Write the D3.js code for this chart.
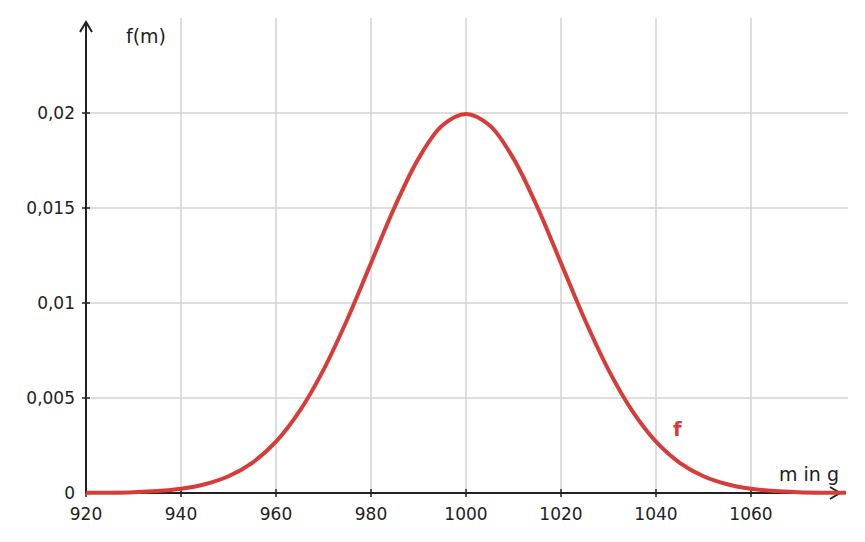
<!DOCTYPE html>
<html><head><meta charset="utf-8">
<script src="https://cdn.jsdelivr.net/npm/d3@7"></script>
<style>body{margin:0;background:#fff}text{font-family:"DejaVu Sans",sans-serif;fill:#222}</style>
</head><body>
<script>
// masses (g) and density values
var masses = [920,925,930,935,940,945,950,955,960,965,970,975,980,985,990,995,1000,
              1005,1010,1015,1020,1025,1030,1035,1040,1045,1050,1055,1060,1065,1070,1075,1080];
var density = [0.000007,0.000018,0.000044,0.0001,0.00022,0.00046,0.00088,0.00159,0.0027,0.00432,0.00648,0.00913,0.0121,0.01506,0.0176,0.01934,0.01995,
               0.01934,0.0176,0.01506,0.0121,0.00913,0.00648,0.00432,0.0027,0.00159,0.00088,0.00046,0.00022,0.0001,0.000044,0.000018,0.000007];
var xTicks = [920,940,960,980,1000,1020,1040,1060];
var yTicks = [0,0.005,0.01,0.015,0.02];

var width = 865, height = 542;
var svg = d3.select("body").append("svg").attr("width", width).attr("height", height);

var x = d3.scaleLinear().domain([920, 1080]).range([86, 846]);
var y = d3.scaleLinear().domain([0, 0.02]).range([493, 113]);

// grid
svg.selectAll(".vg").data(xTicks.slice(1)).enter().append("line")
    .attr("x1", d => x(d)).attr("x2", d => x(d)).attr("y1", 18).attr("y2", 493)
    .attr("stroke", "#d3d3d3").attr("stroke-width", 1.5);
svg.selectAll(".hg").data(yTicks.slice(1)).enter().append("line")
    .attr("x1", 86).attr("x2", 848).attr("y1", d => y(d)).attr("y2", d => y(d))
    .attr("stroke", "#d3d3d3").attr("stroke-width", 1.5);

// axes
svg.append("line").attr("x1", 86).attr("x2", 86).attr("y1", 493).attr("y2", 22).attr("stroke", "#222").attr("stroke-width", 2);
svg.append("path").attr("d", "M80,32 L86,22 L92,32").attr("fill", "none").attr("stroke", "#222").attr("stroke-width", 2);
svg.append("line").attr("x1", 86).attr("x2", 840).attr("y1", 493).attr("y2", 493).attr("stroke", "#222").attr("stroke-width", 2);
svg.append("path").attr("d", "M830,487 L840,493 L830,499").attr("fill", "none").attr("stroke", "#222").attr("stroke-width", 2);

svg.selectAll(".xt").data(xTicks).enter().append("line")
    .attr("x1", d => x(d)).attr("x2", d => x(d)).attr("y1", 489).attr("y2", 497).attr("stroke", "#222").attr("stroke-width", 1.5);
svg.selectAll(".xl").data(xTicks).enter().append("text")
    .attr("x", d => x(d)).attr("y", 520).attr("text-anchor", "middle").attr("font-size", 17).text(d => d);
svg.selectAll(".yt").data(yTicks.slice(1)).enter().append("line")
    .attr("x1", 82).attr("x2", 90).attr("y1", d => y(d)).attr("y2", d => y(d)).attr("stroke", "#222").attr("stroke-width", 1.5);
svg.selectAll(".yl").data(yTicks).enter().append("text")
    .attr("x", 75).attr("y", d => y(d) + 6).attr("text-anchor", "end").attr("font-size", 17)
    .text(d => d === 0 ? "0" : String(d).replace(".", ","));

svg.append("text").attr("x", 126).attr("y", 43).attr("font-size", 19).text("f(m)");
svg.append("text").attr("x", 839).attr("y", 481).attr("text-anchor", "end").attr("font-size", 19).text("m in g");

// curve
var line = d3.line().x((d, i) => x(masses[i])).y(d => y(d)).curve(d3.curveCatmullRom);
svg.append("path").datum(density).attr("d", line)
    .attr("fill", "none").attr("stroke", "#d63d3a").attr("stroke-width", 4);
svg.append("text").attr("x", 673).attr("y", 436).attr("font-size", 20).attr("font-weight", "bold")
    .style("fill", "#d63d3a").text("f");
</script>
</body></html>
